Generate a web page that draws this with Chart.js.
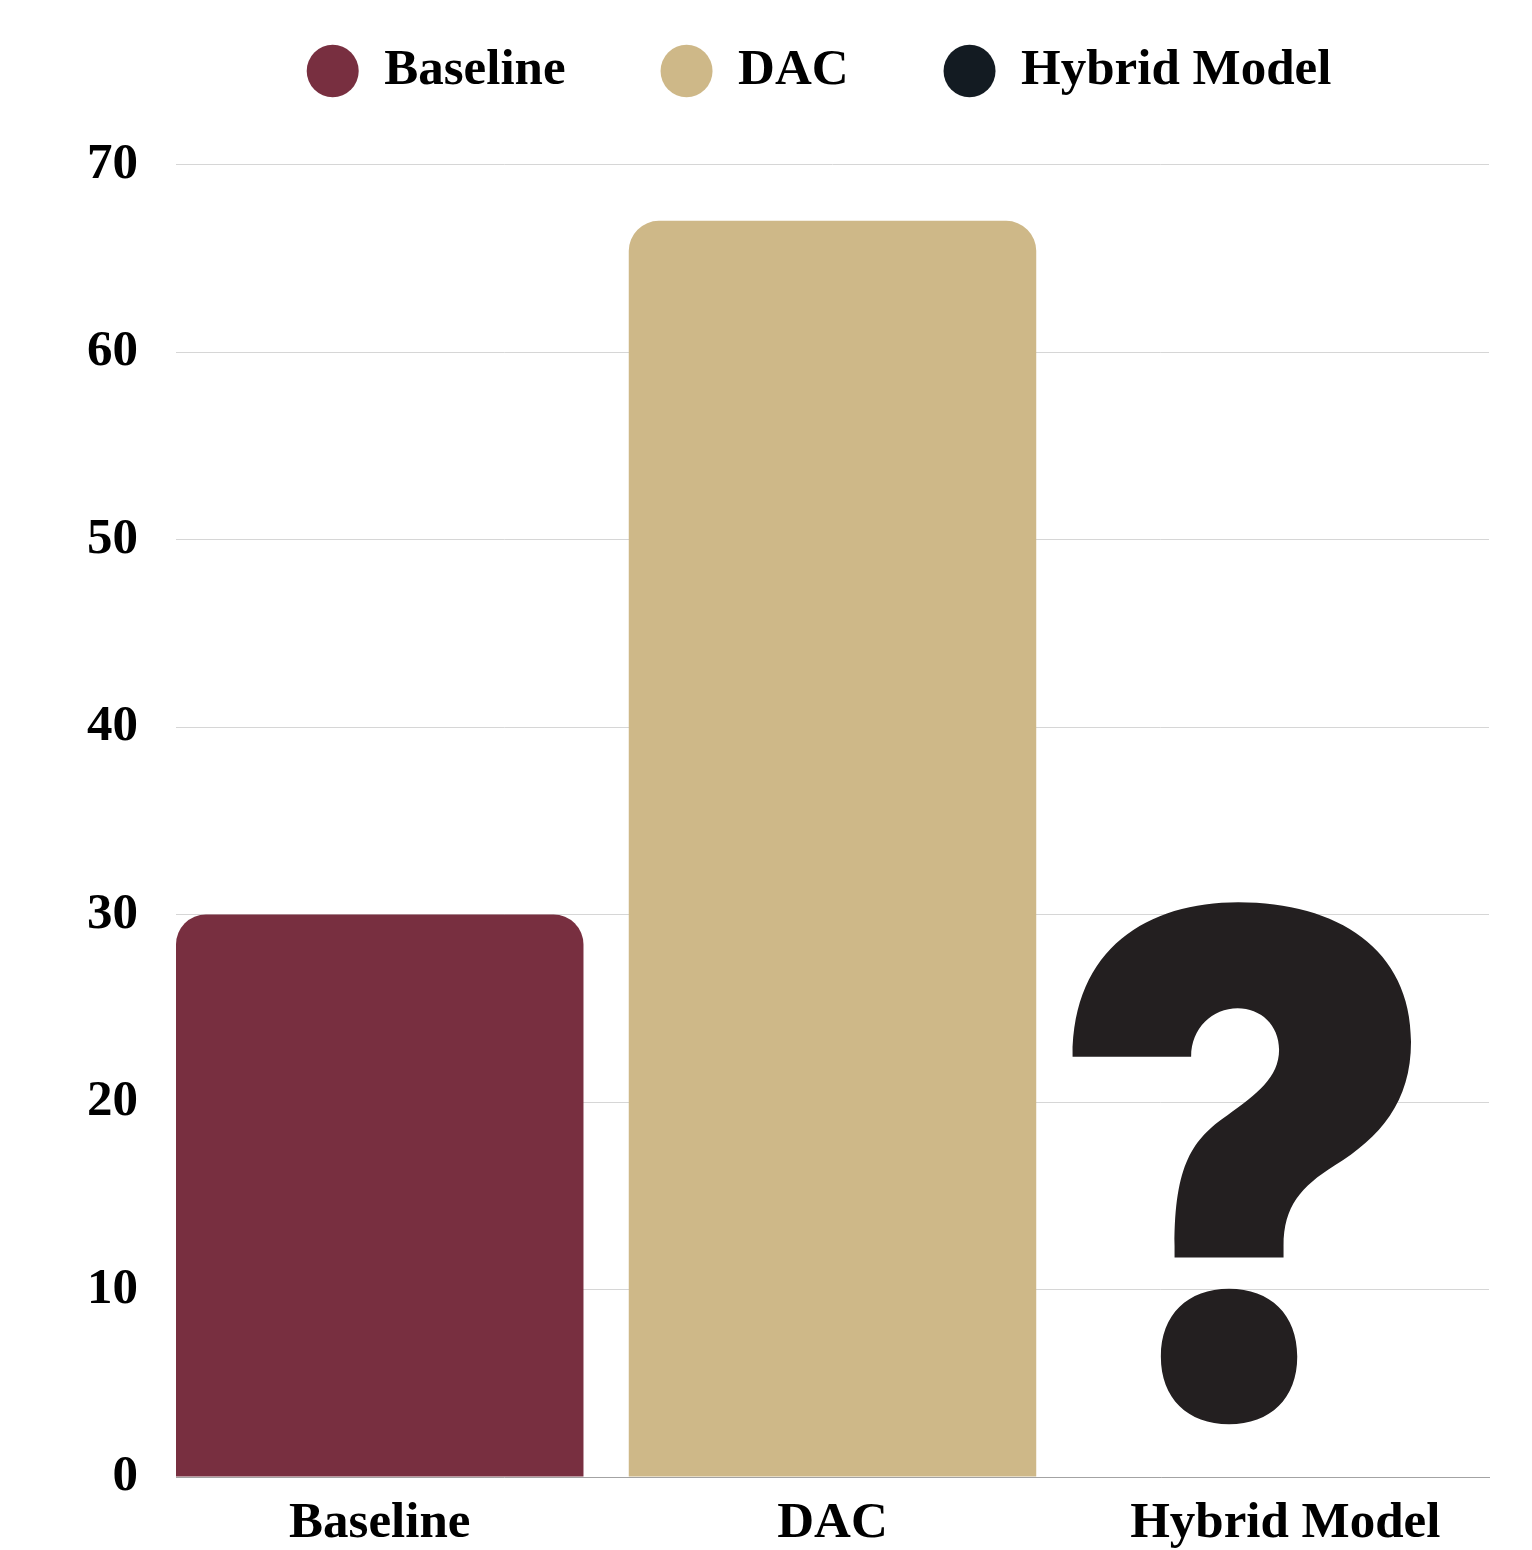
<!DOCTYPE html>
<html>
<head>
<meta charset="utf-8">
<title>Baseline vs DAC vs Hybrid Model</title>
<script src="https://cdn.jsdelivr.net/npm/chart.js@4.4.1/dist/chart.umd.min.js"></script>
<style>
  html, body { margin: 0; padding: 0; background: #fff; }
  canvas { display: block; }
</style>
</head>
<body>
<canvas id="modelChart" width="1532" height="1550"></canvas>
<script>
// values
const categories = ["Baseline", "DAC", "Hybrid Model"];
const baselineValues = [30, null, null];
const dacValues = [null, 67, null];
const hybridValues = [null, null, null]; // no result yet, drawn as a big "?"
const yTickValues = [0, 10, 20, 30, 40, 50, 60, 70];

// one point per category, x is the category index
function toPoints(values) {
  return values.map((v, i) => ({ x: i, y: v }));
}

Chart.defaults.font.family = "'Liberation Serif', 'Times New Roman', serif";
Chart.defaults.font.weight = "bold";
Chart.defaults.font.size = 51;
Chart.defaults.color = "#000";

// draws the "?" in place of the missing Hybrid Model bar
const unknownMark = {
  id: "unknownMark",
  afterDatasetsDraw(chart, args, opts) {
    const { ctx, scales: { x, y } } = chart;
    const left = x.getPixelForValue(opts.xFrom);
    const right = x.getPixelForValue(opts.xTo);
    const top = y.getPixelForValue(opts.yTo);
    const bottom = y.getPixelForValue(opts.yFrom);

    ctx.save();
    ctx.font = "900 100px Inter, Roboto, sans-serif";
    ctx.textAlign = "left";
    ctx.textBaseline = "alphabetic"; // set before measuring, metrics depend on it
    const m = ctx.measureText("?");
    const w = m.actualBoundingBoxLeft + m.actualBoundingBoxRight;
    const h = m.actualBoundingBoxAscent + m.actualBoundingBoxDescent;
    ctx.translate(left, top);
    ctx.scale((right - left) / w, (bottom - top) / h);
    ctx.fillStyle = opts.color;
    ctx.fillText("?", m.actualBoundingBoxLeft, m.actualBoundingBoxAscent);
    ctx.restore();
  }
};

const ctx = document.getElementById("modelChart").getContext("2d");

new Chart(ctx, {
  type: "bar",
  data: {
    datasets: [
      { label: "Baseline", data: toPoints(baselineValues), backgroundColor: "#782f40" },
      { label: "DAC", data: toPoints(dacValues), backgroundColor: "#ceb888" },
      { label: "Hybrid Model", data: toPoints(hybridValues), backgroundColor: "#131b22" }
    ]
  },
  options: {
    responsive: false,
    animation: false,
    grouped: false,
    categoryPercentage: 1,
    barPercentage: 0.9,
    borderRadius: 30,
    layout: {
      padding: { top: -49.5, left: 149, right: 43, bottom: -20 }
    },
    plugins: {
      legend: {
        position: "top",
        labels: {
          usePointStyle: true,
          pointStyle: "circle",
          pointStyleWidth: 52,
          boxHeight: 37,
          padding: 95,
          color: "#000",
          font: { size: 51, weight: "bold" }
        }
      },
      tooltip: { enabled: false },
      unknownMark: {
        xFrom: 1.52, xTo: 2.284,
        yFrom: 2.88, yTo: 30.76,
        color: "#231f20"
      }
    },
    scales: {
      x: {
        type: "linear",
        offset: false,
        min: -0.45,
        max: 2.45,
        afterBuildTicks: (scale) => {
          scale.ticks = categories.map((_, i) => ({ value: i }));
        },
        ticks: {
          callback: (value) => categories[value],
          padding: 21,
          maxRotation: 0,
          autoSkip: false,
          font: { size: 51, weight: "bold", lineHeight: 1 }
        },
        grid: { display: false, drawTicks: false, offset: false },
        border: { display: true, color: "#a3a3a3", width: 1 }
      },
      y: {
        min: 0,
        max: 73.1, // headroom above the 70 line, no tick there
        afterBuildTicks: (scale) => {
          scale.ticks = yTickValues.map((v) => ({ value: v }));
        },
        afterFit: (scale) => {
          scale.width = 27;
        },
        ticks: {
          mirror: true,
          crossAlign: "far",
          padding: -89,
          font: { size: 51, weight: "bold" }
        },
        grid: { color: "#d6d6d6", lineWidth: 1, drawTicks: false },
        border: { display: false }
      }
    }
  },
  plugins: [unknownMark]
});
</script>
</body>
</html>
